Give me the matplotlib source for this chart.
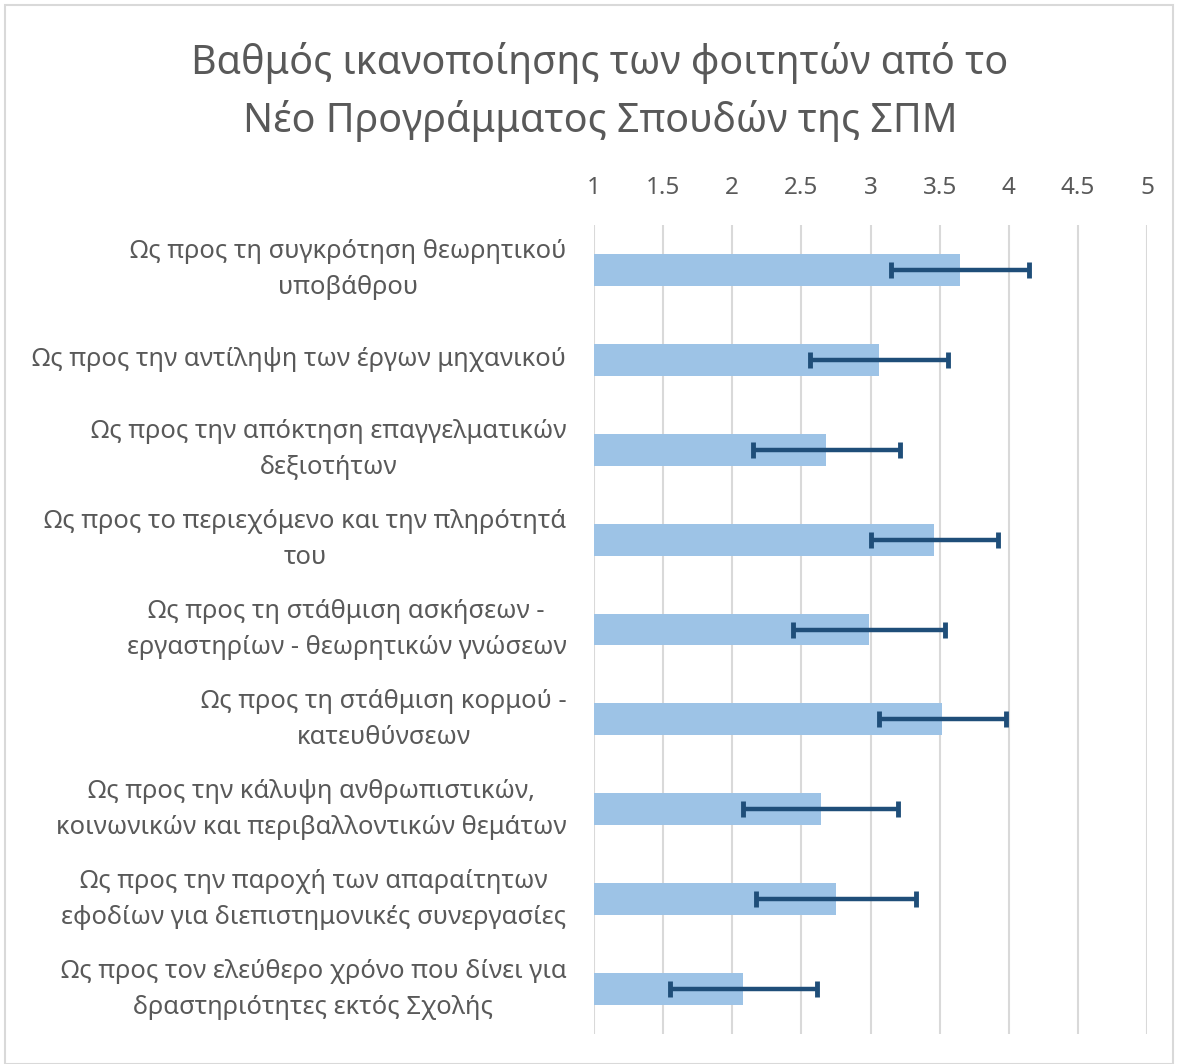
import matplotlib.pyplot as plt
from matplotlib.patches import Rectangle

plt.rcParams['font.family'] = ['Noto Sans', 'DejaVu Sans']

categories = [
    'Ως προς τη συγκρότηση θεωρητικού\nυποβάθρου',
    'Ως προς την αντίληψη των έργων μηχανικού',
    'Ως προς την απόκτηση επαγγελματικών\nδεξιοτήτων',
    'Ως προς το περιεχόμενο και την πληρότητά\nτου',
    'Ως προς τη στάθμιση ασκήσεων -\nεργαστηρίων - θεωρητικών γνώσεων',
    'Ως προς τη στάθμιση κορμού -\nκατευθύνσεων',
    'Ως προς την κάλυψη ανθρωπιστικών,\nκοινωνικών και περιβαλλοντικών θεμάτων',
    'Ως προς την παροχή των απαραίτητων\nεφοδίων για διεπιστημονικές συνεργασίες',
    'Ως προς τον ελεύθερο χρόνο που δίνει για\nδραστηριότητες εκτός Σχολής',
]
means = [3.65, 3.06, 2.68, 3.46, 2.99, 3.52, 2.64, 2.75, 2.08]
errors = [0.50, 0.50, 0.53, 0.46, 0.55, 0.46, 0.56, 0.58, 0.53]
xticks = [1, 1.5, 2, 2.5, 3, 3.5, 4, 4.5, 5]

title = 'Βαθμός ικανοποίησης των φοιτητών από το\nΝέο Προγράμματος Σπουδών της ΣΠΜ'

text_color = '#595959'

fig = plt.figure(figsize=(11.78, 10.64), dpi=100)
ax = fig.add_axes([594 / 1178, 1 - 1034 / 1064, (1147 - 594) / 1178, (1034 - 225) / 1064])

ypos = list(range(len(categories)))
base = xticks[0]
ax.barh(ypos, [m - base for m in means], left=base, height=0.355, color='#9DC3E6', zorder=2)
ax.errorbar(means, ypos, xerr=errors, fmt='none', ecolor='#1F4E79', elinewidth=3.2,
            capsize=5.5, capthick=3.5, zorder=3)

ax.set_xlim(1, 5)
ax.set_ylim(len(categories) - 0.5, -0.5)
ax.set_xticks(xticks)
ax.set_xticklabels([f'{t:g}' for t in xticks])
ax.xaxis.tick_top()
ax.tick_params(axis='x', length=0, pad=18, labelsize=17.5, labelcolor=text_color)
ax.set_yticks([])
ax.grid(axis='x', color='#D9D9D9', linewidth=1.5, zorder=0)
for s in ax.spines.values():
    s.set_visible(False)

for y, label in zip(ypos, categories):
    ax.text(-0.05, y, label, transform=ax.get_yaxis_transform(), ha='right', va='center',
            multialignment='center', fontsize=18.4, color=text_color, linespacing=1.58)

fig.text(600 / 1178, 1 - 92 / 1064, title, ha='center', va='center', fontsize=28.4,
         color=text_color, linespacing=1.52)

fig.patches.append(Rectangle((5 / 1178, 0), 1168 / 1178, 1 - 5 / 1064, transform=fig.transFigure,
                             fill=False, edgecolor='#D9D9D9', linewidth=1.5))

fig.savefig('out.png', dpi=100, facecolor='white')
